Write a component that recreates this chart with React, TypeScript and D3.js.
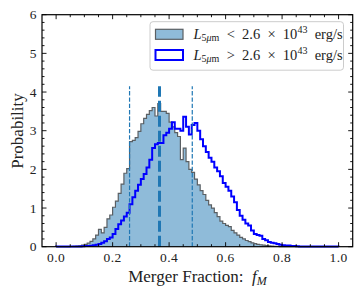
import * as d3 from 'd3';
import {useEffect, useRef} from 'react';

const width = 362;
const height = 294;

// bin heights, bins of 0.01 from 0 to 1
const lowLum = [
  0, 0, 0, 0, 0, 0.005, 0.008, 0.015, 0.025, 0.04,
  0.06, 0.09, 0.14, 0.2, 0.3, 0.45, 0.36, 0.5, 0.72, 0.82,
  1.02, 1.18, 1.38, 1.62, 1.9, 2.02, 2.72, 2.75, 2.82, 2.98,
  3.18, 3.32, 3.42, 3.52, 3.6, 3.38, 3.7, 3.5, 3.5, 3.45,
  3.22, 3.1, 2.95, 2.85, 2.25, 2.55, 2.2, 2.0, 1.92, 1.75,
  1.6, 1.45, 1.35, 1.2, 1.08, 1.0, 0.88, 0.78, 0.66, 0.6,
  0.55, 0.52, 0.42, 0.36, 0.3, 0.24, 0.2, 0.16, 0.13, 0.1,
  0.08, 0.06, 0.05, 0.04, 0.03, 0.02, 0.015, 0.01, 0.006, 0.004,
  0, 0, 0, 0, 0, 0, 0, 0, 0, 0,
  0, 0, 0, 0, 0, 0, 0, 0, 0, 0,
];
const highLum = [
  0.003, 0.003, 0.003, 0.003, 0.003, 0.003, 0.003, 0.003, 0.005, 0.01,
  0.015, 0.02, 0.025, 0.035, 0.05, 0.07, 0.1, 0.14, 0.2, 0.24,
  0.33, 0.46, 0.58, 0.68, 0.78, 0.88, 1.1, 1.28, 1.45, 1.6,
  1.75, 1.88, 2.05, 2.25, 2.55, 2.65, 2.68, 2.68, 2.88, 2.95,
  3.05, 3.22, 3.05, 3.05, 3.0, 3.36, 3.1, 2.9, 3.15, 3.2,
  3.0, 2.78, 2.6, 2.45, 2.3, 2.2, 2.05, 1.95, 1.82, 1.65,
  1.55, 1.45, 1.3, 1.15, 0.95, 0.8, 0.7, 0.6, 0.55, 0.42,
  0.33, 0.3, 0.28, 0.2, 0.17, 0.12, 0.1, 0.09, 0.07, 0.05,
  0.04, 0.03, 0.03, 0.02, 0.02, 0.01, 0.005, 0.002, 0.002, 0.002,
  0.002, 0.002, 0.002, 0.002, 0.002, 0.002, 0.002, 0.002, 0.002, 0.002,
];
const binEdges = d3.range(101).map(i => i / 100);

// percentile markers (16th, median, 84th)
const markers = [0.26, 0.366, 0.482];
const markerTop = 4.15;

const xTicks = [0, 0.2, 0.4, 0.6, 0.8, 1.0];
const yTicks = [0, 1, 2, 3, 4, 5, 6];

const serif = 'Liberation Serif';

function steps(vals: number[]) {
  let pts: [number, number][] = [[binEdges[0], 0]];
  vals.forEach((v, i) => {
    pts.push([binEdges[i], v]);
    pts.push([binEdges[i + 1], v]);
  });
  pts.push([binEdges[binEdges.length - 1], 0]);
  return pts;
}

function Plot() {
  const ref = useRef<SVGSVGElement>(null);

  useEffect(() => {
    const svg = d3.select(ref.current);
    svg.selectAll('*').remove();

    const x = d3.scaleLinear().domain([-0.05, 1.05]).range([42, 352.7]);
    const y = d3.scaleLinear().domain([0, 6]).range([246.7, 14.7]);

    const area = d3
      .area<[number, number]>()
      .x(d => x(d[0]))
      .y0(y(0))
      .y1(d => y(d[1]));
    const line = d3
      .line<[number, number]>()
      .x(d => x(d[0]))
      .y(d => y(d[1]));

    const plot = svg.append('g');

    plot
      .append('path')
      .attr('d', area(steps(lowLum)))
      .attr('fill', '#8fbbd9');
    plot
      .append('path')
      .attr('d', line(steps(lowLum)))
      .attr('fill', 'none')
      .attr('stroke', '#5a5f63')
      .attr('stroke-width', 1.2);

    plot
      .append('path')
      .attr('d', line(steps(highLum)))
      .attr('fill', 'none')
      .attr('stroke', '#0000ff')
      .attr('stroke-width', 2)
      .attr('stroke-linejoin', 'miter');

    markers.forEach((m, i) => {
      plot
        .append('line')
        .attr('x1', x(m))
        .attr('x2', x(m))
        .attr('y1', y(0))
        .attr('y2', y(markerTop))
        .attr('stroke', '#1f77b4')
        .attr('stroke-width', i === 1 ? 3 : 1.2)
        .attr('stroke-dasharray', i === 1 ? '11,4' : '4.4,1.9');
    });

    // frame + inward ticks on all sides
    const ax = svg.append('g').attr('stroke', '#000');
    const [x0, x1] = x.range();
    const [yb, yt] = y.range();

    const xMinor = d3.range(-0.05, 1.0501, 0.05).filter(v => v > -0.049 && v < 1.049);
    xMinor.forEach(v => {
      const major = xTicks.some(t => Math.abs(t - v) < 1e-6);
      const len = major ? 4.5 : 2.5;
      ax.append('line').attr('x1', x(v)).attr('x2', x(v)).attr('y1', yb).attr('y2', yb - len).attr('stroke-width', 0.9);
      ax.append('line').attr('x1', x(v)).attr('x2', x(v)).attr('y1', yt).attr('y2', yt + len).attr('stroke-width', 0.9);
    });
    const yMinor = d3.range(0, 6.001, 0.2);
    yMinor.forEach(v => {
      const major = yTicks.some(t => Math.abs(t - v) < 1e-6);
      const len = major ? 4.5 : 2.5;
      ax.append('line').attr('x1', x0).attr('x2', x0 + len).attr('y1', y(v)).attr('y2', y(v)).attr('stroke-width', 0.9);
      ax.append('line').attr('x1', x1).attr('x2', x1 - len).attr('y1', y(v)).attr('y2', y(v)).attr('stroke-width', 0.9);
    });

    ax.append('rect')
      .attr('x', x0)
      .attr('y', yt)
      .attr('width', x1 - x0)
      .attr('height', yb - yt)
      .attr('fill', 'none')
      .attr('stroke-width', 1.2);

    const labels = svg.append('g').style('font-family', serif).attr('fill', '#222');
    xTicks.forEach(t => {
      labels.append('text')
        .attr('x', x(t))
        .attr('y', 261.8)
        .attr('text-anchor', 'middle')
        .style('font-size', '13.5px')
        .style('letter-spacing', '0.5px')
        .text(t.toFixed(1));
    });
    yTicks.forEach(t => {
      labels.append('text')
        .attr('x', 36.5)
        .attr('y', y(t) + 4.5)
        .attr('text-anchor', 'end')
        .style('font-size', '13.5px')
        .text(t);
    });

    const xl = labels.append('text')
      .attr('x', 197.5)
      .attr('y', 281.5)
      .attr('text-anchor', 'middle')
      .style('font-size', '17px');
    xl.append('tspan').text('Merger Fraction:\u2002');
    xl.append('tspan').style('font-style', 'italic').text('f');
    xl.append('tspan').style('font-style', 'italic').style('font-size', '12px').attr('dy', 3).text('M');

    labels.append('text')
      .attr('transform', `translate(23, ${131}) rotate(-90)`)
      .attr('text-anchor', 'middle')
      .style('font-size', '17px')
      .text('Probability');

    // legend
    const lg = svg.append('g');
    lg.append('rect')
      .attr('x', 150)
      .attr('y', 21.7)
      .attr('width', 193.5)
      .attr('height', 48.5)
      .attr('rx', 3)
      .attr('fill', 'white')
      .attr('fill-opacity', 0.8)
      .attr('stroke', '#cccccc')
      .attr('stroke-width', 1);

    const entries = [
      {fill: '#8fbbd9', stroke: '#5a5f63', sw: 1.2, rel: '<'},
      {fill: 'white', stroke: '#0000ff', sw: 2, rel: '>'},
    ];
    entries.forEach((e, i) => {
      const cy = 34.3 + i * 20.7;
      lg.append('rect')
        .attr('x', 155.5)
        .attr('y', cy - 5)
        .attr('width', 27.5)
        .attr('height', 10)
        .attr('fill', e.fill)
        .attr('stroke', e.stroke)
        .attr('stroke-width', e.sw);
      const t = lg.append('text')
        .attr('x', 193.5)
        .attr('y', cy + 4.5)
        .style('font-family', serif)
        .style('font-size', '14.5px')
        .attr('fill', '#222');
      t.append('tspan').style('font-style', 'italic').text('L');
      t.append('tspan').style('font-size', '10px').attr('dy', 2.5).text('5');
      t.append('tspan').style('font-size', '10px').style('font-style', 'italic').text('\u03bc');
      t.append('tspan').style('font-size', '10px').text('m');
      t.append('tspan').attr('dy', -2.5).text(`\u2002${e.rel}\u20022.6\u2002\u00d7\u200210`);
      t.append('tspan').style('font-size', '10px').attr('dy', -5.5).text('43');
      t.append('tspan').attr('dy', 5.5).text('\u2002erg/s');
    });
  }, []);

  return (
    <svg
      ref={ref}
      width={width}
      height={height}
      style={{position: 'absolute', left: 0, top: 0, background: 'white'}}
    />
  );
}

export default function App() {
  return <Plot />;
}
